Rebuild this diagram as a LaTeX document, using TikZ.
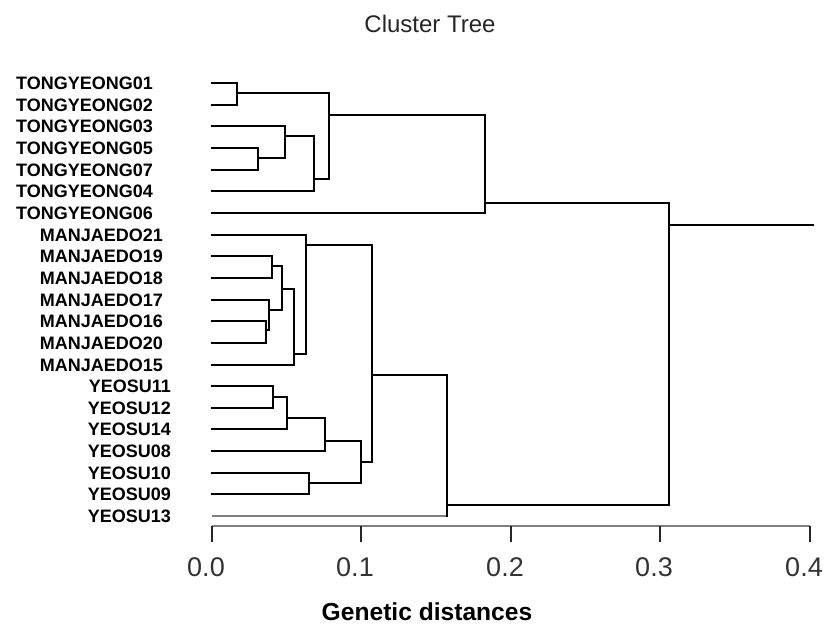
\documentclass[tikz,border=0pt]{standalone}
\usepackage{fontspec}
\setmainfont{Liberation Sans}
\begin{document}
\begin{tikzpicture}[x=1pt,y=-1pt,
  br/.style={draw=black,line width=1.7pt,line cap=rect},
  grayline/.style={draw=black!50,line width=2pt},
  leaflab/.style={anchor=east,inner sep=0pt,font=\fontsize{18}{18}\selectfont\bfseries},
  ticklab/.style={anchor=center,inner sep=0pt,text=black!80,font=\fontsize{27}{27}\selectfont},
  tickmark/.style={draw=black!85,line width=1.5pt}]
\useasboundingbox (0,0) rectangle (827,638);
% leaf coordinates (start of branch at distance 0)
\foreach \n/\yy in {T01/83,T02/105,T03/126,T05/148,T07/170,T04/191,T06/213,M21/235,M19/256,M18/278,M17/300,M16/321,M20/343,M15/365,Y11/386,Y12/408,Y14/429,Y08/451,Y10/473,Y09/494,Y13/516}
  \coordinate (\n) at (212,\yy);
% labels
\foreach \n/\t in {T01/TONGYEONG01,T02/TONGYEONG02,T03/TONGYEONG03,T05/TONGYEONG05,T07/TONGYEONG07,T04/TONGYEONG04,T06/TONGYEONG06}
  \node[leaflab] (L\n) at ([xshift=-59pt]\n) {\t};
\foreach \n/\t in {M21/MANJAEDO21,M19/MANJAEDO19,M18/MANJAEDO18,M17/MANJAEDO17,M16/MANJAEDO16,M20/MANJAEDO20,M15/MANJAEDO15}
  \node[leaflab] (L\n) at ([xshift=-49pt]\n) {\t};
\foreach \n/\t in {Y11/YEOSU11,Y12/YEOSU12,Y14/YEOSU14,Y08/YEOSU08,Y10/YEOSU10,Y09/YEOSU09,Y13/YEOSU13}
  \node[leaflab] (L\n) at ([xshift=-41pt]\n) {\t};
% internal nodes
\coordinate (a) at (237,93);
\coordinate (b) at (258,158);
\coordinate (c) at (285,136);
\coordinate (d) at (314,179);
\coordinate (e) at (329,115);
\coordinate (f) at (485,203);
\coordinate (g) at (272,266);
\coordinate (h) at (266,330);
\coordinate (i) at (269,310);
\coordinate (j) at (282,289);
\coordinate (k) at (294,354);
\coordinate (l) at (306,245);
\coordinate (m) at (273,397);
\coordinate (n) at (287,418);
\coordinate (o) at (325,441);
\coordinate (p) at (309,483);
\coordinate (q) at (361,462);
\coordinate (r) at (372,375);
\coordinate (s) at (447,505);
\coordinate (t) at (669,225);
\coordinate (rootend) at (813,225);
% branches
\draw[br] (T01) -| (a) |- (T02);
\draw[br] (T05) -| (b) |- (T07);
\draw[br] (T03) -| (c) |- (b);
\draw[br] (c) -| (d) |- (T04);
\draw[br] (a) -| (e) |- (d);
\draw[br] (e) -| (f) |- (T06);
\draw[br] (M19) -| (g) |- (M18);
\draw[br] (M16) -| (h) |- (M20);
\draw[br] (M17) -| (i) |- (h);
\draw[br] (g) -| (j) |- (i);
\draw[br] (j) -| (k) |- (M15);
\draw[br] (M21) -| (l) |- (k);
\draw[br] (Y11) -| (m) |- (Y12);
\draw[br] (m) -| (n) |- (Y14);
\draw[br] (n) -| (o) |- (Y08);
\draw[br] (Y10) -| (p) |- (Y09);
\draw[br] (o) -| (q) |- (p);
\draw[br] (l) -| (r) |- (q);
\draw[grayline] (Y13) -- (s |- Y13);
\draw[br] (r) -| (s) -- (s |- Y13);
\draw[br] (f) -| (t) |- (s);
\draw[br] (t) -- (rootend);
% axis
\coordinate (ax0) at (212,526);
\coordinate (ax4) at (810,526);
\draw[grayline] (ax0) -- (ax4);
\foreach \v/\x in {0.0/212,0.1/361,0.2/511,0.3/660,0.4/810}{
  \draw[tickmark] (\x,526) -- (\x,542);
  \node[ticklab] (tick\v) at (\x-6,567) {\v};
}
\node[inner sep=0pt,font=\fontsize{24.6}{24.6}\selectfont\bfseries] (xlabel) at (427,612) {Genetic distances};
\node[inner sep=0pt,text=black!85,font=\fontsize{24}{24}\selectfont] (title) at (430,24) {Cluster Tree};
\end{tikzpicture}
\end{document}
